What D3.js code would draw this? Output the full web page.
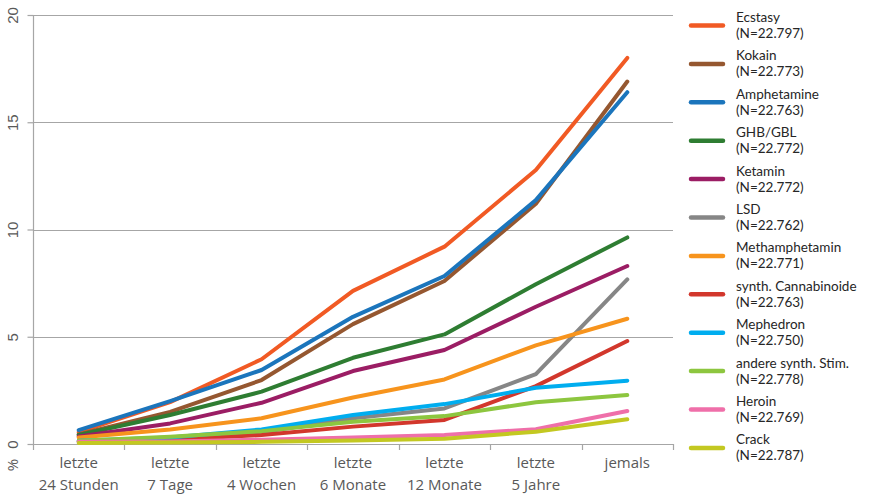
<!DOCTYPE html>
<html>
<head>
<meta charset="utf-8">
<script src="https://cdn.jsdelivr.net/npm/d3@7"></script>
<style>
  html, body { margin: 0; padding: 0; background: #fff; }
  svg { display: block; font-family: "Open Sans", "DejaVu Sans", sans-serif; }
</style>
</head>
<body>
<svg id="chart" width="870" height="495"></svg>
<script>
// Prevalence periods (x axis), two text lines each
const periods = [
  ["letzte", "24 Stunden"],
  ["letzte", "7 Tage"],
  ["letzte", "4 Wochen"],
  ["letzte", "6 Monate"],
  ["letzte", "12 Monate"],
  ["letzte", "5 Jahre"],
  ["jemals"]
];

const substances = ["Ecstasy", "Kokain", "Amphetamine", "GHB/GBL", "Ketamin", "LSD",
  "Methamphetamin", "synth. Cannabinoide", "Mephedron", "andere synth. Stim.", "Heroin", "Crack"];

const sampleSizes = ["22.797", "22.773", "22.763", "22.772", "22.772", "22.762",
  "22.771", "22.763", "22.750", "22.778", "22.769", "22.787"];

const colors = ["#f15a24", "#955730", "#1b75bc", "#2e7d32", "#9b1d64", "#868686",
  "#f7941d", "#d2372c", "#00adef", "#8dc63f", "#ef6fa9", "#c3c821"];

// Percent values per substance, one per period
const ecstasy      = [0.55, 1.95, 3.95, 7.14, 9.20, 12.77, 18.00];
const kokain       = [0.45, 1.50, 2.98, 5.59, 7.60, 11.20, 16.90];
const amphetamine  = [0.65, 2.00, 3.45, 5.93, 7.83, 11.37, 16.40];
const ghb          = [0.42, 1.35, 2.44, 4.02, 5.11, 7.45, 9.63];
const ketamin      = [0.35, 0.96, 1.92, 3.40, 4.38, 6.40, 8.30];
const lsd          = [0.10, 0.25, 0.55, 1.20, 1.66, 3.26, 7.67];
const meth         = [0.30, 0.68, 1.20, 2.17, 3.01, 4.60, 5.84];
const cannabinoide = [0.12, 0.20, 0.42, 0.81, 1.12, 2.70, 4.80];
const mephedron    = [0.15, 0.30, 0.68, 1.35, 1.86, 2.62, 2.95];
const andereStim   = [0.15, 0.34, 0.60, 1.04, 1.30, 1.95, 2.28];
const heroin       = [0.10, 0.12, 0.20, 0.30, 0.42, 0.69, 1.54];
const crack        = [0.05, 0.07, 0.10, 0.16, 0.25, 0.57, 1.15];

const seriesValues = [ecstasy, kokain, amphetamine, ghb, ketamin, lsd,
  meth, cannabinoide, mephedron, andereStim, heroin, crack];

const yTicks = [0, 5, 10, 15, 20];

const svg = d3.select("#chart");
const plot = { left: 33, right: 673, top: 15, bottom: 444 };

const x = d3.scaleBand()
  .domain(d3.range(periods.length))
  .range([plot.left, plot.right])
  .paddingInner(0).paddingOuter(0);

const y = d3.scaleLinear().domain([0, 20]).range([plot.bottom, plot.top]);

const axisColor = "#a6a6a6";
const textColor = "#595959";

// Horizontal gridlines
svg.append("g")
  .selectAll("line")
  .data(yTicks.filter(d => d > 0))
  .join("line")
  .attr("x1", plot.left).attr("x2", plot.right)
  .attr("y1", d => Math.round(y(d)) + 0.5).attr("y2", d => Math.round(y(d)) + 0.5)
  .attr("stroke", axisColor).attr("stroke-width", 1.2);

// Y axis with rotated labels
const yAxis = svg.append("g")
  .attr("transform", `translate(${plot.left + 0.5},0)`)
  .call(d3.axisLeft(y).tickValues(yTicks).tickSize(6).tickSizeOuter(0).tickFormat(d3.format("d")));
yAxis.select(".domain").attr("stroke", axisColor).attr("stroke-width", 1.2)
  .attr("d", `M0,${plot.top}V${plot.bottom + 6}`);
yAxis.selectAll(".tick line").attr("stroke", axisColor).attr("stroke-width", 1.2);
yAxis.selectAll(".tick text")
  .attr("fill", textColor)
  .attr("font-size", 15)
  .attr("text-anchor", "middle")
  .attr("x", 0).attr("dy", 0)
  .attr("transform", d => `translate(-19,0) rotate(-90)`)
  .attr("dominant-baseline", "middle");

// "%" unit label under the y axis
svg.append("text")
  .attr("transform", `translate(14,${plot.bottom + 21}) rotate(-90)`)
  .attr("text-anchor", "middle").attr("dominant-baseline", "middle")
  .attr("fill", textColor).attr("font-size", 15)
  .text("%");

// X axis baseline and band boundary ticks
const xAxis = svg.append("g");
xAxis.append("line")
  .attr("x1", plot.left).attr("x2", plot.right)
  .attr("y1", plot.bottom + 0.5).attr("y2", plot.bottom + 0.5)
  .attr("stroke", axisColor).attr("stroke-width", 1.2);
xAxis.selectAll(".bt")
  .data(d3.range(1, periods.length + 1))
  .join("line")
  .attr("class", "bt")
  .attr("x1", i => Math.round(x(i - 1) + x.bandwidth()) + 0.5)
  .attr("x2", i => Math.round(x(i - 1) + x.bandwidth()) + 0.5)
  .attr("y1", plot.bottom).attr("y2", plot.bottom + 6)
  .attr("stroke", axisColor).attr("stroke-width", 1.2);

// Category labels
const catLabels = svg.append("g")
  .selectAll("text")
  .data(periods)
  .join("text")
  .attr("x", (d, i) => x(i) + x.bandwidth() / 2)
  .attr("y", 468)
  .attr("text-anchor", "middle")
  .attr("fill", textColor)
  .attr("font-size", 15);
catLabels.selectAll("tspan")
  .data(d => d)
  .join("tspan")
  .attr("x", function () { return this.parentNode.getAttribute("x"); })
  .attr("dy", (d, i) => i === 0 ? 0 : 22)
  .text(d => d);

// Series lines
const line = d3.line()
  .x((d, i) => x(i) + x.bandwidth() / 2)
  .y(d => y(d));

svg.append("g")
  .selectAll("path")
  .data(seriesValues)
  .join("path")
  .attr("d", d => line(d))
  .attr("fill", "none")
  .attr("stroke", (d, i) => colors[i])
  .attr("stroke-width", 4)
  .attr("stroke-linejoin", "round")
  .attr("stroke-linecap", "round");

// Legend: swatch plus name and sample size on two lines
const legend = svg.append("g")
  .selectAll("g")
  .data(substances)
  .join("g")
  .attr("transform", (d, i) => `translate(691,${25.5 + i * 38.4})`);
legend.append("line")
  .attr("x1", 0).attr("x2", 32)
  .attr("stroke", (d, i) => colors[i])
  .attr("stroke-width", 4.5)
  .attr("stroke-linecap", "round");
legend.append("text")
  .attr("x", 45).attr("y", -3.5)
  .attr("fill", "#262626")
  .attr("font-family", "Lato, 'Open Sans', sans-serif")
  .attr("font-size", 13.5)
  .text(d => d);
legend.append("text")
  .attr("x", 45).attr("y", 12.5)
  .attr("fill", "#262626")
  .attr("font-family", "Lato, 'Open Sans', sans-serif")
  .attr("font-size", 13.5)
  .text((d, i) => `(N=${sampleSizes[i]})`);
</script>
</body>
</html>
